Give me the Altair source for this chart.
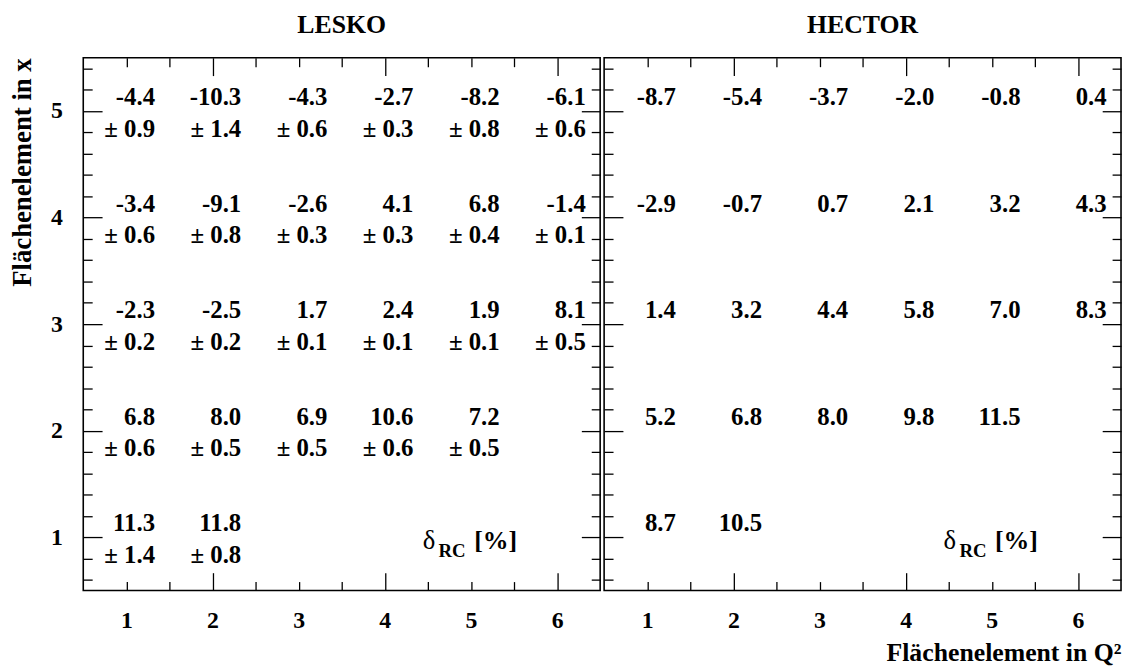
import altair as alt
import pandas as pd

# ---------------- data ----------------
q_bin = [1, 2, 3, 4, 5, 6, 1, 2, 3, 4, 5, 6, 1, 2, 3, 4, 5, 6, 1, 2, 3, 4, 5, 1, 2]
x_bin = [5] * 6 + [4] * 6 + [3] * 6 + [2] * 5 + [1] * 2

lesko_val = [-4.4, -10.3, -4.3, -2.7, -8.2, -6.1,
             -3.4, -9.1, -2.6, 4.1, 6.8, -1.4,
             -2.3, -2.5, 1.7, 2.4, 1.9, 8.1,
             6.8, 8.0, 6.9, 10.6, 7.2,
             11.3, 11.8]
lesko_err = [0.9, 1.4, 0.6, 0.3, 0.8, 0.6,
             0.6, 0.8, 0.3, 0.3, 0.4, 0.1,
             0.2, 0.2, 0.1, 0.1, 0.1, 0.5,
             0.6, 0.5, 0.5, 0.6, 0.5,
             1.4, 0.8]
hector_val = [-8.7, -5.4, -3.7, -2.0, -0.8, 0.4,
              -2.9, -0.7, 0.7, 2.1, 3.2, 4.3,
              1.4, 3.2, 4.4, 5.8, 7.0, 8.3,
              5.2, 6.8, 8.0, 9.8, 11.5,
              8.7, 10.5]

x_major = [2, 4, 6]
x_minor = [1, 1.5, 2.5, 3, 3.5, 4.5, 5, 5.5]
y_major = [1, 2, 3, 4, 5]
y_minor = [0.6, 0.8, 1.2, 1.4, 1.6, 1.8, 2.2, 2.4, 2.6, 2.8,
           3.2, 3.4, 3.6, 3.8, 4.2, 4.4, 4.6, 4.8, 5.2, 5.4]
x_domain = [0.5, 6.5]
y_domain = [0.5, 5.5]

label_pos_q = [4.44]
label_pos_x = [0.89]

panel_titles = ["LESKO", "HECTOR"]
x_title = "Flächenelement in Q²"
y_title = "Flächenelement in x"

FONT = "Liberation Serif"

lesko_df = pd.DataFrame({
    "q": q_bin, "x": x_bin,
    "val": [f"{v:.1f}" for v in lesko_val],
    "err": [f"± {e:.1f}" for e in lesko_err],
})
hector_df = pd.DataFrame({
    "q": q_bin, "x": x_bin,
    "val": [f"{v:.1f}" for v in hector_val],
})
ann_df = pd.DataFrame({"q": label_pos_q, "x": label_pos_x})

xs = alt.Scale(domain=x_domain, nice=False, zero=False)
ys = alt.Scale(domain=y_domain, nice=False, zero=False)

TW = 1.3
common = dict(domain=False, grid=False, tickColor="black", tickWidth=TW)


def x_axes(show_title):
    bot_major = alt.Axis(orient="bottom", values=x_major, tickSize=18, offset=-18,
                         labelPadding=18, title=x_title if show_title else None,
                         titleAnchor="end", titleFontSize=26, titleFont=FONT,
                         titleFontWeight="bold", titlePadding=8, titleColor="black",
                         **common)
    bot_minor = alt.Axis(orient="bottom", values=x_minor, tickSize=9, offset=-9,
                         labelPadding=18,
                         labelExpr="datum.value % 1 == 0 ? datum.label : ''",
                         title=None, **common)
    top_major = alt.Axis(orient="top", values=x_major, tickSize=18, offset=-18,
                         labels=False, title=None, **common)
    top_minor = alt.Axis(orient="top", values=x_minor, tickSize=9, offset=-9,
                         labels=False, title=None, **common)
    return [bot_major, bot_minor, top_major, top_minor]


def y_axes(show_labels):
    left_major = alt.Axis(orient="left", values=y_major, tickSize=19, offset=-19,
                          labels=show_labels, labelPadding=21,
                          title=y_title if show_labels else None,
                          titleAnchor="end", titleFontSize=27, titleFont=FONT,
                          titleFontWeight="bold", titlePadding=14, titleColor="black",
                          **common)
    left_minor = alt.Axis(orient="left", values=y_minor, tickSize=9, offset=-9,
                          labels=False, title=None, **common)
    right_major = alt.Axis(orient="right", values=y_major, tickSize=19, offset=-19,
                           labels=False, title=None, **common)
    right_minor = alt.Axis(orient="right", values=y_minor, tickSize=9, offset=-9,
                           labels=False, title=None, **common)
    return [left_major, left_minor, right_major, right_minor]


def panel(df, title, has_err, first):
    xa = x_axes(not first)
    ya = y_axes(first)
    layers = []

    def enc(i):
        xax = xa[i] if i < 4 else None
        yax = ya[i] if i < 4 else None
        return dict(
            x=alt.X("q:Q", scale=xs, axis=xax),
            y=alt.Y("x:Q", scale=ys, axis=yax),
        )

    marks = []
    marks.append((alt.Chart(df).mark_text(
        align="right", baseline="alphabetic", dx=29, dy=-6,
        font=FONT, fontSize=25, fontWeight="bold", color="black"), "val"))
    if has_err:
        marks.append((alt.Chart(df).mark_text(
            align="right", baseline="alphabetic", dx=29, dy=26,
            font=FONT, fontSize=25, fontWeight="bold", color="black"), "err"))
    marks.append((alt.Chart(ann_df).mark_text(
        text="δ", align="left", baseline="alphabetic", dx=0, dy=0,
        font=FONT, fontSize=27, fontWeight="normal", color="black"), None))
    marks.append((alt.Chart(ann_df).mark_text(
        text="RC", align="left", baseline="alphabetic", dx=16, dy=8,
        font=FONT, fontSize=19, fontWeight="bold", color="black"), None))
    marks.append((alt.Chart(ann_df).mark_text(
        text="[%]", align="left", baseline="alphabetic", dx=52, dy=0,
        font=FONT, fontSize=26, fontWeight="bold", color="black"), None))

    for i, (ch, field) in enumerate(marks):
        e = enc(i)
        if field:
            e["text"] = alt.Text(f"{field}:N")
        layers.append(ch.encode(**e))

    return alt.layer(*layers).resolve_axis(x="independent", y="independent").properties(
        width=522, height=538,
        title=alt.TitleParams(title, anchor="middle", frame="group", font=FONT,
                              fontSize=26, fontWeight="bold", color="black", offset=19),
    )


left = panel(lesko_df, panel_titles[0], True, True)
right = panel(hector_df, panel_titles[1], False, False)

chart = alt.hconcat(left, right, spacing=0).properties(
    padding={"left": 0, "top": 0, "right": 0, "bottom": 0}
).configure_view(
    stroke="black", strokeWidth=1.6
).configure_axis(
    labelFont=FONT, labelFontSize=24, labelFontWeight="bold", labelColor="black"
)

chart.save("out.html", embed_options={"renderer": "svg", "actions": False})
